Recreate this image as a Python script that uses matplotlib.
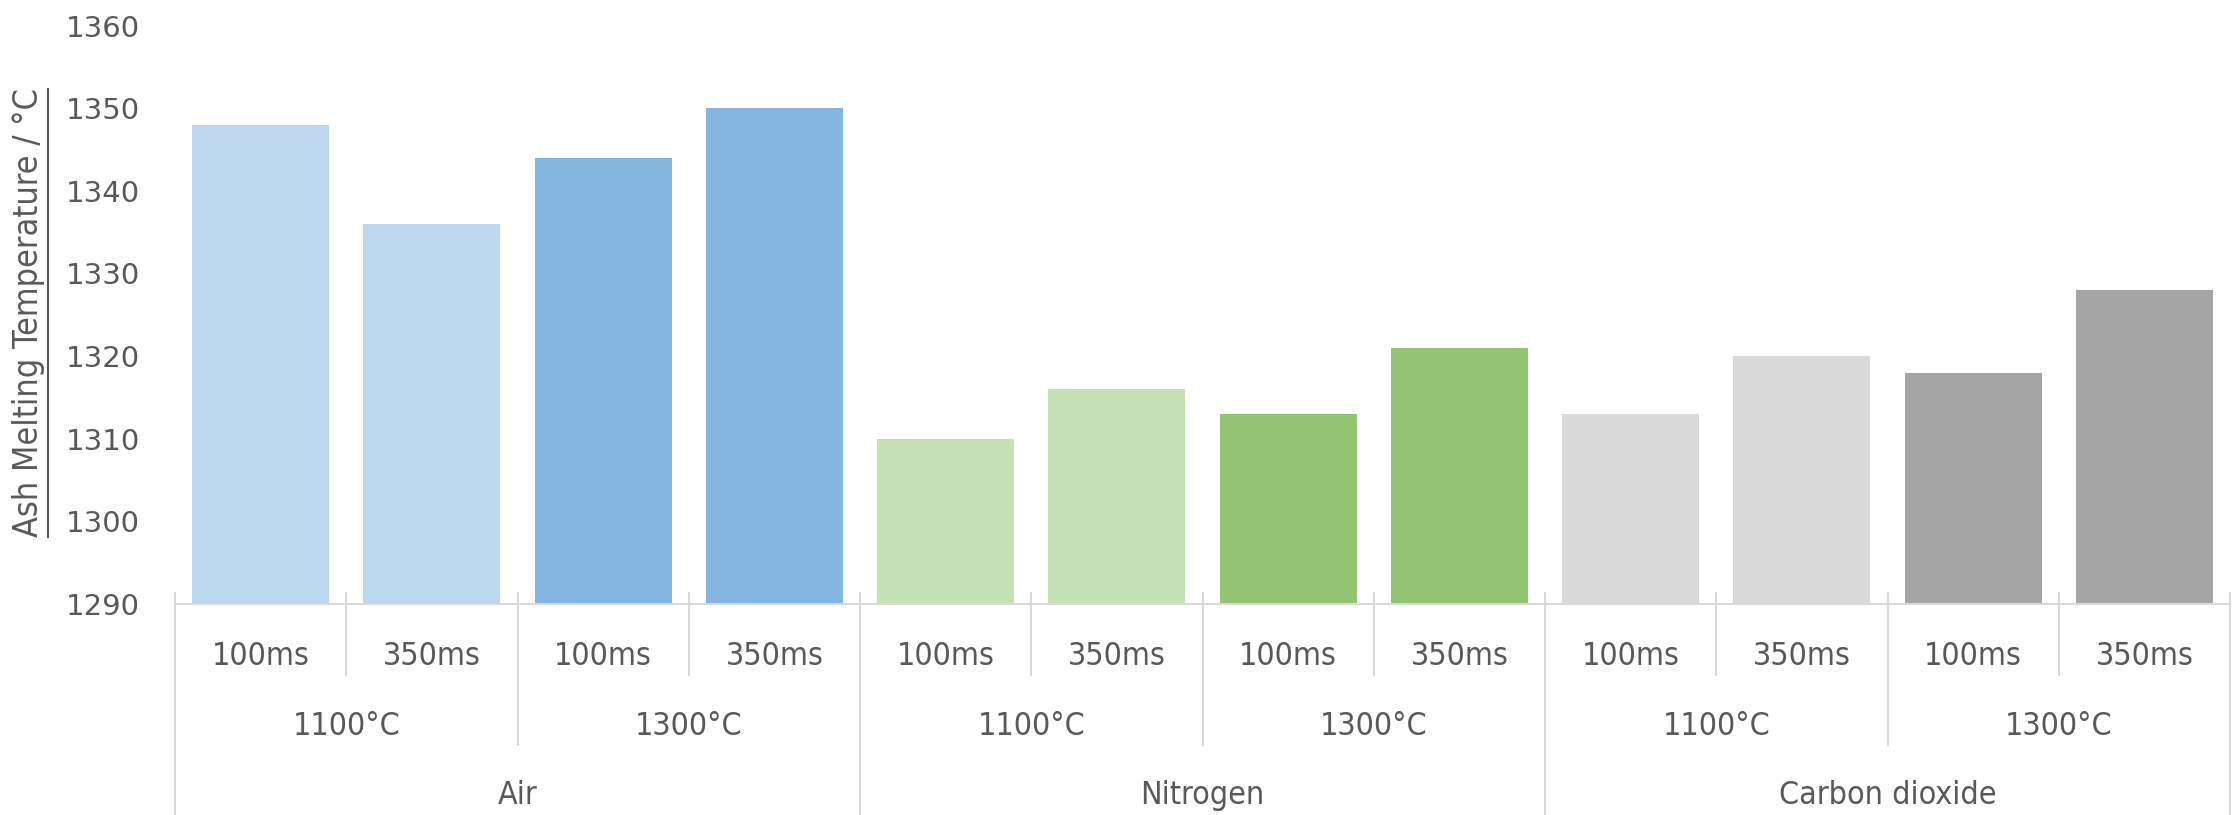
import numpy as np
import matplotlib
matplotlib.use("Agg")
import matplotlib.pyplot as plt
from matplotlib.lines import Line2D

# data
gases = ["Air", "Nitrogen", "Carbon dioxide"]
temps = ["1100°C", "1300°C"]
times = ["100ms", "350ms"]
air_vals = [1348, 1336, 1344, 1350]
n2_vals = [1310, 1316, 1313, 1321]
co2_vals = [1313, 1320, 1318, 1328]
bar_colors = ["#BDD7EE", "#BDD7EE", "#84B4E0", "#84B4E0",
              "#C5E0B4", "#C5E0B4", "#92C472", "#92C472",
              "#D9D9D9", "#D9D9D9", "#A5A5A5", "#A5A5A5"]

values = air_vals + n2_vals + co2_vals
x = np.arange(len(values))

txt_col = "#595959"
line_col = "#D9D9D9"
cat_font = dict(family="DejaVu Sans", stretch="condensed", fontsize=23, color=txt_col)

fig = plt.figure(figsize=(22.34, 8.15), dpi=100)
ax = fig.add_axes([175 / 2234, 1 - 604 / 815, (2230 - 175) / 2234, (604 - 25.6) / 815])

ax.bar(x, values, width=0.8, bottom=0, color=bar_colors)
ax.set_ylim(1290, 1360)
ax.set_xlim(-0.5, len(values) - 0.5)
ax.set_yticks(np.arange(1290, 1361, 10))
ax.tick_params(axis="y", length=0, labelsize=21, labelcolor=txt_col, pad=25)
ax.set_xticks([])
for s in ["top", "right", "left"]:
    ax.spines[s].set_visible(False)
ax.spines["bottom"].set_color(line_col)
ax.spines["bottom"].set_linewidth(1.5)

trans = ax.get_xaxis_transform()

def vline(xpos, y0, y1):
    ax.add_line(Line2D([xpos, xpos], [y0, y1], transform=trans, color=line_col,
                       lw=1.5, clip_on=False))

# level 1: times
for i in range(len(values)):
    ax.text(i, -0.091, times[i % 2], transform=trans, ha="center", va="center", **cat_font)
    if i % 2 == 1:
        vline(i - 0.5, 0.019, -0.123)
# level 2: temperatures
for j in range(6):
    ax.text(2 * j + 0.5, -0.212, temps[j % 2], transform=trans, ha="center", va="center",
            **cat_font)
    if j % 2 == 1:
        vline(2 * j - 0.5, 0.019, -0.244)
# level 3: gases
for k in range(3):
    ax.text(4 * k + 1.5, -0.331, gases[k], transform=trans, ha="center", va="center",
            **cat_font)
for k in range(4):
    vline(4 * k - 0.5, 0.019, -0.4)

# underlined y label
ylab = fig.text(29 / 2234, 1 - 313 / 815, "Ash Melting Temperature / °C", rotation=90,
                ha="center", va="center", family="DejaVu Sans", stretch="condensed",
                fontsize=24.5, color=txt_col)
fig.canvas.draw()
bb = ylab.get_window_extent(fig.canvas.get_renderer()).transformed(fig.transFigure.inverted())
fig.add_artist(Line2D([bb.x1 + 0.001, bb.x1 + 0.001], [bb.y0, bb.y1], transform=fig.transFigure,
                      color=txt_col, lw=1.5))

fig.savefig("out.png", dpi=100)
